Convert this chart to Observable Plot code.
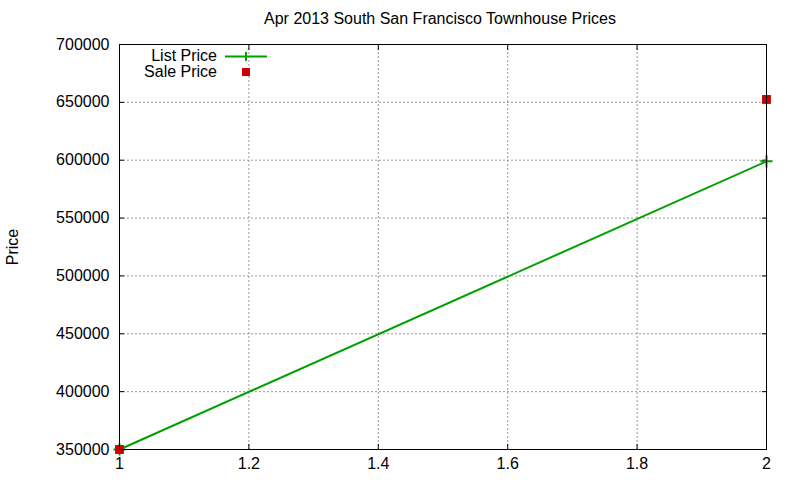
<!DOCTYPE html>
<html>
<head>
<meta charset="utf-8">
<script src="https://cdn.jsdelivr.net/npm/d3@7"></script>
<script src="https://cdn.jsdelivr.net/npm/@observablehq/plot@0.6"></script>
<style>
  body { margin: 0; background: #fff; font-family: "Liberation Sans", Arial, sans-serif; }
  #wrap { position: relative; width: 800px; height: 480px; }
  .ov { position: absolute; font-size: 16px; color: #000; white-space: nowrap; }
</style>
</head>
<body>
<div id="wrap"></div>
<script>
const title = "Apr 2013 South San Francisco Townhouse Prices";
const yLabel = "Price";
const xValues = [1, 2];
const listPrice = [350000, 599000];
const salePrice = [350000, 652500];
const xTicks = [1, 1.2, 1.4, 1.6, 1.8, 2];
const yTicks = [350000, 400000, 450000, 500000, 550000, 600000, 650000, 700000];
const seriesNames = ["List Price", "Sale Price"];
const green = "#00a000", red = "#cc0000";

const listData = xValues.map((x, i) => ({x, y: listPrice[i]}));
const saleData = xValues.map((x, i) => ({x, y: salePrice[i]}));

const chart = Plot.plot({
  width: 800, height: 480,
  marginTop: 44, marginRight: 34, marginBottom: 31, marginLeft: 119,
  style: {fontFamily: "Liberation Sans, Arial, sans-serif", fontSize: "16px", background: "#fff", color: "#000"},
  x: {domain: [1, 2]},
  y: {domain: [350000, 700000]},
  marks: [
    Plot.gridY(yTicks.slice(1, -1), {stroke: "#999", strokeOpacity: 1, strokeDasharray: "2,2"}),
    Plot.gridX(xTicks.slice(1, -1), {stroke: "#999", strokeOpacity: 1, strokeDasharray: "2,2"}),
    Plot.axisY(yTicks, {anchor: "left", tickSize: -5, tickPadding: 15, tickFormat: d3.format("d"), label: null, fontSize: 16}),
    Plot.axisY(yTicks, {anchor: "right", tickSize: -5, tickFormat: () => "", label: null}),
    Plot.axisX(xTicks, {anchor: "bottom", tickSize: -5, tickPadding: 13, tickFormat: d => String(+d.toFixed(1)), label: null, fontSize: 16}),
    Plot.axisX(xTicks, {anchor: "top", tickSize: -5, tickFormat: () => "", label: null}),
    Plot.line(listData, {x: "x", y: "y", stroke: green, strokeWidth: 2}),
    Plot.dot(listData, {x: "x", y: "y", symbol: "plus", stroke: green, strokeWidth: 2, r: 4}),
    Plot.dot(saleData, {x: "x", y: "y", symbol: "square", fill: red, stroke: "none", r: 5}),
    Plot.frame({stroke: "#000"})
  ]
});
const wrap = document.getElementById("wrap");
wrap.appendChild(chart);

function ov(html, css) {
  const d = document.createElement("div");
  d.className = "ov";
  d.innerHTML = html;
  Object.assign(d.style, css);
  wrap.appendChild(d);
  return d;
}
ov(title, {left: "0", width: "880px", textAlign: "center", top: "10px"});
ov(yLabel, {left: "13px", top: "247px", transform: "translate(-50%,-50%) rotate(-90deg)"});
ov(seriesNames[0], {right: "583px", top: "47px", textAlign: "right"});
ov(seriesNames[1], {right: "583px", top: "63px", textAlign: "right"});
const lg = document.createElementNS("http://www.w3.org/2000/svg", "svg");
lg.setAttribute("width", "60"); lg.setAttribute("height", "40");
lg.style.position = "absolute"; lg.style.left = "220px"; lg.style.top = "46px";
lg.innerHTML = `<line x1="5" x2="47" y1="10.5" y2="10.5" stroke="${green}" stroke-width="2"/>
<line x1="26" x2="26" y1="6" y2="15" stroke="${green}" stroke-width="2"/>
<rect x="22" y="22" width="8" height="8" fill="${red}"/>`;
wrap.appendChild(lg);
</script>
</body>
</html>
